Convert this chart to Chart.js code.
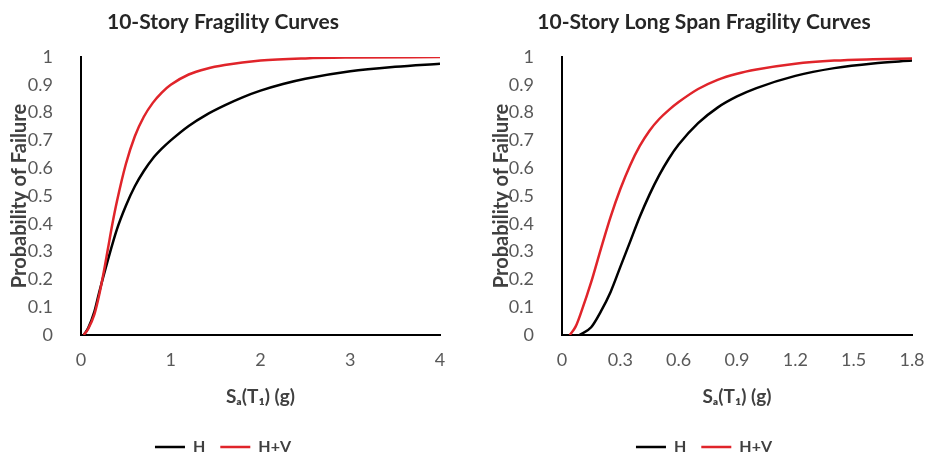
<!DOCTYPE html>
<html>
<head>
<meta charset="utf-8">
<script src="https://cdn.jsdelivr.net/npm/chart.js@4/dist/chart.umd.min.js"></script>
<style>
  html, body { margin: 0; padding: 0; background: #fff; overflow: hidden; }
  #wrap { position: relative; width: 927px; height: 455px; overflow: hidden; }
  canvas { position: absolute; top: 0; }
  #leftChart { left: 0; }
  #rightChart { left: 481px; }
</style>
</head>
<body>
<div id="wrap">
  <canvas id="leftChart" width="446" height="465"></canvas>
  <canvas id="rightChart" width="446" height="465"></canvas>
</div>
<script>
// values
var seriesNames = ['H', 'H+V'];
var yTicks = [0, 0.1, 0.2, 0.3, 0.4, 0.5, 0.6, 0.7, 0.8, 0.9, 1];

// 10-Story
var leftTitle = '10-Story Fragility Curves';
var leftXTicks = [0, 1, 2, 3, 4];
var leftHx = [0.03, 0.08, 0.15, 0.2, 0.3, 0.4, 0.5, 0.6, 0.7, 0.8, 0.9, 1.0, 1.2, 1.4, 1.6, 1.8, 2.0, 2.25, 2.5, 3.0, 3.5, 4.0];
var leftHy = [0, 0.025, 0.085, 0.15, 0.27, 0.38, 0.465, 0.535, 0.59, 0.635, 0.67, 0.70, 0.752, 0.793, 0.826, 0.855, 0.879, 0.903, 0.922, 0.949, 0.965, 0.976];
var leftHVx = [0.03, 0.08, 0.15, 0.2, 0.25, 0.3, 0.35, 0.4, 0.5, 0.6, 0.7, 0.8, 0.9, 1.0, 1.2, 1.4, 1.6, 2.0, 2.5, 3.0, 4.0];
var leftHVy = [0, 0.022, 0.075, 0.14, 0.22, 0.31, 0.40, 0.48, 0.615, 0.715, 0.785, 0.835, 0.872, 0.9, 0.937, 0.958, 0.971, 0.987, 0.995, 0.998, 1.0];

// 10-Story Long Span
var rightTitle = '10-Story Long Span Fragility Curves';
var rightXTicks = [0, 0.3, 0.6, 0.9, 1.2, 1.5, 1.8];
var rightHx = [0.09, 0.15, 0.2, 0.25, 0.3, 0.35, 0.4, 0.45, 0.5, 0.55, 0.6, 0.7, 0.8, 0.9, 1.0, 1.2, 1.4, 1.6, 1.8];
var rightHy = [0, 0.028, 0.085, 0.155, 0.245, 0.335, 0.425, 0.505, 0.575, 0.635, 0.685, 0.762, 0.818, 0.858, 0.888, 0.932, 0.96, 0.977, 0.987];
var rightHVx = [0.04, 0.07, 0.1, 0.15, 0.2, 0.25, 0.3, 0.35, 0.4, 0.45, 0.5, 0.55, 0.6, 0.7, 0.8, 0.9, 1.0, 1.2, 1.4, 1.6, 1.8];
var rightHVy = [0, 0.03, 0.085, 0.19, 0.31, 0.425, 0.525, 0.61, 0.68, 0.735, 0.777, 0.81, 0.838, 0.885, 0.918, 0.94, 0.955, 0.976, 0.987, 0.992, 0.995];

var FONT = 'Lato, "Open Sans", sans-serif';

function pts(xs, ys) {
  return xs.map(function (x, i) { return { x: x, y: ys[i] }; });
}

function drawFragility(id, title, xTicks, hx, hy, hvx, hvy, padSide, yTitlePad) {
  var ctx = document.getElementById(id).getContext('2d');
  var xMax = xTicks[xTicks.length - 1];
  new Chart(ctx, {
    type: 'scatter',
    data: {
      datasets: [
        {
          label: seriesNames[0],
          data: pts(hx, hy),
          showLine: true,
          borderColor: '#000000',
          backgroundColor: '#000000',
          borderWidth: 2.5,
          pointRadius: 0,
          cubicInterpolationMode: 'monotone',
          order: 2
        },
        {
          label: seriesNames[1],
          data: pts(hvx, hvy),
          showLine: true,
          borderColor: '#e0242a',
          backgroundColor: '#e0242a',
          borderWidth: 2.5,
          pointRadius: 0,
          cubicInterpolationMode: 'monotone',
          order: 1
        }
      ]
    },
    options: {
      responsive: false,
      animation: false,
      layout: { padding: { left: padSide, right: padSide, top: 0, bottom: 0 } },
      plugins: {
        tooltip: { enabled: false },
        title: {
          display: true,
          text: title,
          color: '#262626',
          font: { family: FONT, size: 21, weight: 'bold' },
          padding: { top: 9.4, bottom: 22.4 }
        },
        legend: {
          position: 'bottom',
          labels: {
            boxWidth: 30,
            boxHeight: 0,
            padding: 15,
            color: '#404040',
            font: { family: FONT, size: 16, weight: 'bold' },
            sort: function (a, b) { return a.datasetIndex - b.datasetIndex; }
          }
        }
      },
      scales: {
        x: {
          type: 'linear',
          min: 0,
          max: xMax,
          afterBuildTicks: function (scale) {
            scale.ticks = xTicks.map(function (v) { return { value: v }; });
          },
          afterFit: function (scale) { scale.height = 89; },
          grid: {
            display: true,
            drawOnChartArea: false,
            drawTicks: true,
            tickLength: 14,
            tickColor: 'rgba(0,0,0,0)'
          },
          border: { display: true, color: '#000000', width: 2 },
          ticks: {
            padding: 0,
            color: '#595959',
            font: { family: FONT, size: 18 },
            maxRotation: 0,
            callback: function (v) { return String(v); }
          },
          title: {
            display: true,
            text: 'Sₐ(T₁) (g)',
            color: '#404040',
            font: { family: FONT, size: 19, weight: 'bold' },
            padding: { top: 0, bottom: 15.5 }
          }
        },
        y: {
          min: 0,
          max: 1,
          afterBuildTicks: function (scale) {
            scale.ticks = yTicks.map(function (v) { return { value: v }; });
          },
          afterFit: function (scale) { scale.width = 81 - padSide; },
          grid: { display: false },
          border: { display: true, color: '#000000', width: 2 },
          ticks: {
            padding: 20,
            color: '#595959',
            font: { family: FONT, size: 18 },
            callback: function (v) { return String(v); }
          },
          title: {
            display: true,
            text: 'Probability of Failure',
            color: '#404040',
            font: { family: FONT, size: 20, weight: 'bold' },
            padding: { top: yTitlePad, bottom: 0 }
          }
        }
      }
    }
  });
}

drawFragility('leftChart', leftTitle, leftXTicks, leftHx, leftHy, leftHVx, leftHVy, 6, 1.2);
drawFragility('rightChart', rightTitle, rightXTicks, rightHx, rightHy, rightHVx, rightHVy, 15, -6.8);
</script>
</body>
</html>
